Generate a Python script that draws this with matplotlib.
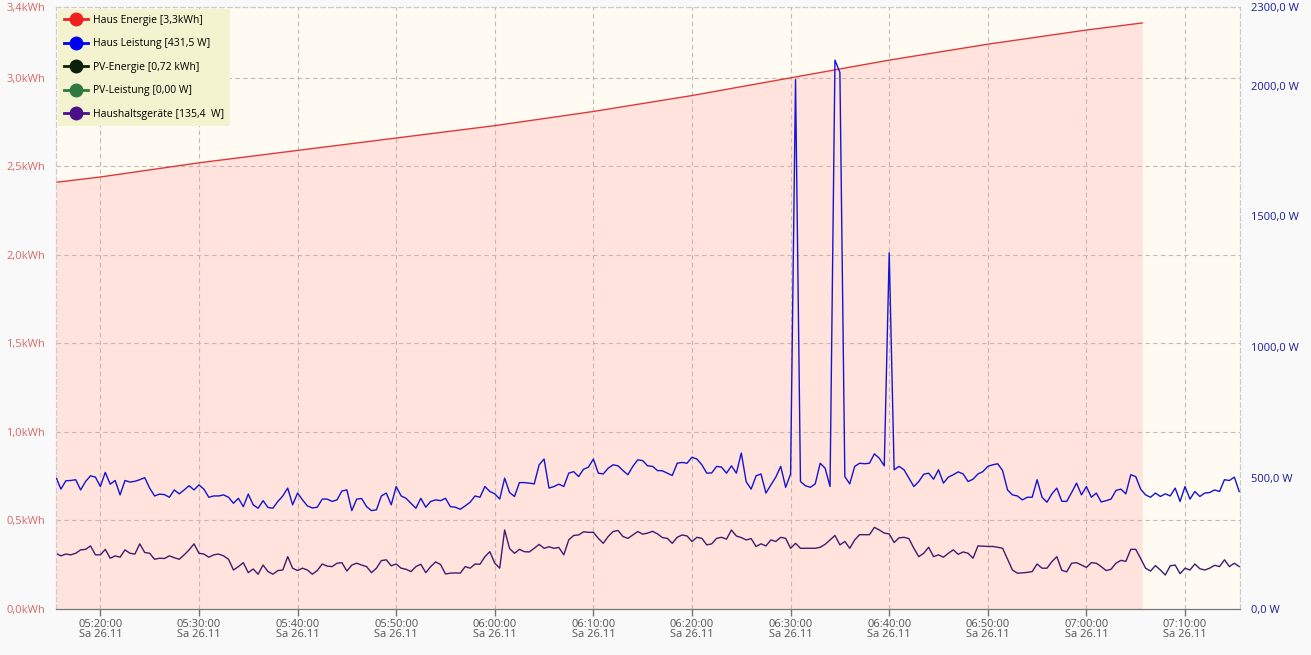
import numpy as np
import matplotlib
matplotlib.use("Agg")
import matplotlib.pyplot as plt
import matplotlib.dates as mdates
from matplotlib.lines import Line2D

plt.rcParams['font.family'] = ['Open Sans', 'DejaVu Sans']

# samples every 30 s starting 05:15:30
t0 = np.datetime64('2022-11-26T05:15:30')
step_s = 30

# Haus Leistung [W]
haus_leistung = [
    504, 458, 490, 491, 494, 455, 487, 509, 504, 468, 522, 477, 491, 436, 491, 485, 488, 494, 502, 462,
    432, 439, 437, 427, 455, 440, 455, 471, 455, 474, 458, 427, 432, 432, 436, 427, 404, 423, 391, 439,
    398, 385, 414, 388, 385, 411, 432, 462, 398, 443, 417, 394, 386, 389, 420, 420, 411, 417, 451, 455,
    376,
    420, 422, 391, 376, 379, 432, 443, 398, 468, 432, 423, 404, 385, 423, 389, 411, 417, 414, 423, 391,
    389, 381, 394, 408, 432, 427, 468, 449, 440, 420, 500, 445, 430, 483, 483, 481, 478, 551, 573, 462,
    468, 477, 468, 519, 525, 506, 534, 542, 573, 519, 516, 538, 551, 547, 529, 513, 545, 570, 567, 547,
    545,
    529, 528, 519, 510, 557, 560, 557, 580, 573, 551, 519, 520, 545, 542, 519, 547, 519, 596, 486, 458,
    509, 516, 443, 474, 504, 545, 465, 516, 2023, 487, 471, 465, 478, 557, 538, 468, 2097, 2050, 506, 478,
    545, 557, 555, 557, 593, 576, 547, 1361, 532, 545, 532, 500, 468, 487, 515, 519, 496, 532, 481, 504,
    513,
    524, 516, 487, 496, 516, 525, 545, 551, 555, 529, 455, 436, 432, 417, 427, 427, 494, 427, 408, 440,
    462, 412, 411, 445, 481, 436, 468, 427, 443, 409, 414, 420, 453, 458, 440, 513, 506, 458, 436, 427,
    443, 430, 440, 432, 462, 411, 468, 420, 449, 430, 443, 445, 455, 449, 494, 491, 504, 449,
]

# Haushaltsgeräte [W]
haushalt = [
    213, 203, 210, 207, 213, 226, 228, 241, 207, 207, 228, 194, 203, 198, 226, 213, 210, 249, 216, 213,
    190, 194, 193, 203, 196, 190, 207, 226, 249, 213, 210, 198, 207, 210, 203, 190, 149, 162, 177, 139,
    153, 133, 168, 143, 133, 147, 149, 200, 156, 147, 156, 149, 133, 147, 172, 164, 162, 175, 177, 145,
    168,
    175, 168, 162, 139, 156, 185, 188, 165, 172, 156, 152, 143, 162, 171, 139, 162, 180, 170, 134, 137,
    138, 137, 162, 156, 172, 171, 200, 219, 175, 156, 302, 231, 213, 228, 219, 218, 232, 247, 232, 238,
    232, 235, 207, 264, 281, 283, 295, 293, 293, 270, 251, 277, 296, 300, 277, 270, 283, 296, 286, 290,
    297,
    287, 273, 270, 251, 274, 283, 279, 258, 274, 270, 245, 249, 270, 274, 267, 302, 279, 273, 264, 269,
    239, 249, 241, 264, 258, 274, 270, 232, 251, 232, 232, 232, 232, 236, 247, 264, 281, 245, 258, 232,
    264, 284, 284, 284, 312, 302, 290, 287, 254, 272, 274, 269, 232, 200, 213, 236, 200, 207, 198, 213,
    226,
    209, 218, 213, 194, 241, 240, 239, 239, 236, 232, 190, 149, 137, 138, 140, 143, 172, 156, 156, 181,
    200, 148, 142, 175, 177, 168, 159, 177, 175, 162, 147, 152, 175, 186, 182, 228, 228, 193, 156, 145,
    166, 149, 130, 165, 168, 135, 156, 149, 172, 154, 149, 156, 167, 162, 188, 162, 175, 162,
]

# Haus Energie [kWh]
energie_zeit = ['05:15:30', '05:20:00', '05:30:00', '05:40:00', '05:50:00', '06:00:00', '06:10:00',
                '06:20:00', '06:30:00', '06:40:00', '06:50:00', '07:00:00', '07:05:40']
haus_energie = [2.41, 2.44, 2.52, 2.59, 2.66, 2.73, 2.81, 2.90, 3.00, 3.10, 3.19, 3.27, 3.31]

left_ticks = [0.0, 0.5, 1.0, 1.5, 2.0, 2.5, 3.0, 3.4]
left_labels = ['0,0kWh', '0,5kWh', '1,0kWh', '1,5kWh', '2,0kWh', '2,5kWh', '3,0kWh', '3,4kWh']
right_ticks = [0, 500, 1000, 1500, 2000, 2300]
right_labels = ['0,0 W', '500,0 W', '1000,0 W', '1500,0 W', '2000,0 W', '2300,0 W']

legend_names = ['Haus Energie [3,3kWh]', 'Haus Leistung [431,5 W]', 'PV-Energie [0,72 kWh]',
                'PV-Leistung [0,00 W]', 'Haushaltsgeräte [135,4  W]']
legend_colors = ['#ee2020', '#0000f0', '#0b200b', '#2e7a3e', '#4a108a']

t = t0 + np.arange(len(haus_leistung)) * np.timedelta64(step_s, 's')
te = np.array(['2022-11-26T' + s for s in energie_zeit], dtype='datetime64[s]')

fig = plt.figure(figsize=(13.11, 6.55), dpi=100, facecolor='#f9f9f9')
ax = fig.add_axes([0.0427, 0.0702, 0.9032, 0.9191])
ax.set_facecolor('#fffaf2')

ax.fill_between(te, haus_energie, 0, color='#ffe3dc', linewidth=0)
ax.plot(te, haus_energie, color='#e03838', linewidth=1.0)
ax.set_ylim(0, 3.4)
ax.set_yticks(left_ticks)
ax.set_yticklabels(left_labels)
ax.tick_params(axis='y', length=0, labelsize=8, labelcolor='#d86868', pad=8)

ax.grid(True, color='#c4bab4', linestyle=(0, (4, 3)), linewidth=0.8)

ax2 = ax.twinx()
ax2.plot(t, haus_leistung, color='#1414d2', linewidth=1.0)
ax2.plot(t, haushalt, color='#3c1e6e', linewidth=1.0)
ax2.set_ylim(0, 2300)
ax2.set_yticks(right_ticks)
ax2.set_yticklabels(right_labels)
ax2.tick_params(axis='y', length=0, labelsize=8, labelcolor='#1c1ca0', pad=8)

ax.set_xlim(np.datetime64('2022-11-26T05:15:30'), np.datetime64('2022-11-26T07:15:35'))
ax.xaxis.set_major_locator(mdates.MinuteLocator(byminute=range(0, 60, 10)))
ax.xaxis.set_major_formatter(mdates.DateFormatter('%H:%M:%S\nSa %d.%m'))
ax.tick_params(axis='x', length=5, width=1, color='#777777', labelsize=8, labelcolor='#555555', pad=2)
for lab in ax.get_xticklabels():
    lab.set_linespacing(0.95)

for a in (ax, ax2):
    for s in ('top', 'right', 'left'):
        a.spines[s].set_color('#cccccc')
        a.spines[s].set_linestyle((0, (4, 3)))
    a.spines['bottom'].set_color('#777777')

handles = [Line2D([], [], color=c, marker='o', markersize=9, linewidth=2) for c in legend_colors]
leg = ax2.legend(handles, legend_names, loc='upper left', fontsize=7.5, frameon=True,
                 fancybox=False, borderaxespad=0.15, handlelength=2.3, labelspacing=1.2,
                 borderpad=0.6, handletextpad=0.5)
leg.get_frame().set_facecolor('#f3f3d0')
leg.get_frame().set_edgecolor('none')
leg.get_frame().set_alpha(1)

fig.savefig('out.png', dpi=100, facecolor=fig.get_facecolor())
